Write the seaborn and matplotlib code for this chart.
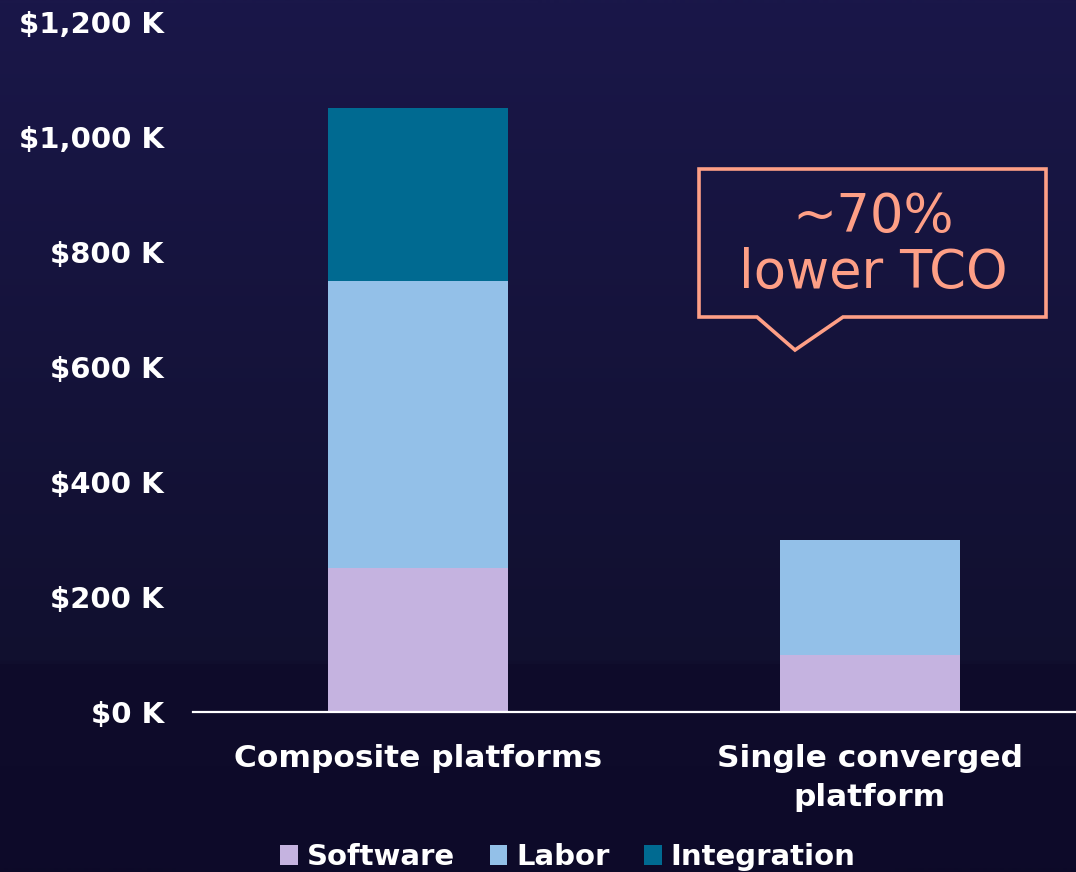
import numpy as np
import pandas as pd
import matplotlib
matplotlib.use("Agg")
import matplotlib.pyplot as plt
from matplotlib.patches import Patch, Polygon
from matplotlib.colors import LinearSegmentedColormap
import seaborn as sns

# Cost components ($K) per platform approach
platforms = ["Composite platforms", "Single converged\nplatform"]
software = [250, 100]
labor = [500, 200]
integration = [300, 0]
components = ["Software", "Labor", "Integration"]
colors = ["#c5b3e0", "#93c0e8", "#006a91"]
yticks = [0, 200, 400, 600, 800, 1000, 1200]
callout_text = "~70%\nlower TCO"

sns.set_theme(style="white")
plt.rcParams["font.family"] = ["DejaVu Sans"]

fig = plt.figure(figsize=(10.76, 8.72), dpi=100)

# Dark navy gradient backdrop
bg = fig.add_axes([0, 0, 1, 1], zorder=-10)
bg.set_axis_off()
grad_cmap = LinearSegmentedColormap.from_list(
    "navy", [(0.0, "#1a1749"), (0.76, "#11102f"), (0.762, "#0f0c2b"), (1.0, "#0d0a29")]
)
grad = np.linspace(0, 1, 872).reshape(-1, 1)
bg.imshow(grad, aspect="auto", cmap=grad_cmap, extent=[0, 1, 0, 1], origin="upper")
bg.set_xlim(0, 1)
bg.set_ylim(0, 1)

ax = fig.add_axes([193 / 1076, 1 - 712 / 872, 1 - 193 / 1076, (712 - 22) / 872])
ax.patch.set_alpha(0)

df = pd.DataFrame({
    "platform": platforms,
    "software": software,
    "labor": labor,
    "integration": integration,
})
df["sw_lab"] = df["software"] + df["labor"]
df["total"] = df["sw_lab"] + df["integration"]

# Stack by overlaying cumulative totals, tallest first
for col, c in [("total", colors[2]), ("sw_lab", colors[1]), ("software", colors[0])]:
    sns.barplot(data=df, x="platform", y=col, order=platforms, color=c,
                width=0.4, saturation=1, ax=ax, edgecolor="none", linewidth=0)

ax.set_ylim(0, 1200)
ax.set_xlim(-0.498, 1.456)
ax.set_yticks(yticks)
ax.set_yticklabels([f"${v:,} K" for v in yticks])
ax.set_xlabel("")
ax.set_ylabel("")
for s in ["top", "right", "left"]:
    ax.spines[s].set_visible(False)
ax.spines["bottom"].set_color("white")
ax.spines["bottom"].set_linewidth(1.6)
ax.tick_params(axis="y", length=0, pad=21, labelsize=21, labelcolor="white")
ax.tick_params(axis="x", length=0, pad=23, labelsize=22.5, labelcolor="white")
for lbl in ax.get_yticklabels() + ax.get_xticklabels():
    lbl.set_fontweight("bold")
    lbl.set_color("white")
for lbl in ax.get_xticklabels():
    lbl.set_linespacing(1.45)

# Callout box with pointer
salmon = "#fe9f86"
px = lambda x: x / 1076
py = lambda y: 1 - y / 872
outline = [(699, 169), (1046, 169), (1046, 317), (843, 317), (795, 350),
           (757, 317), (699, 317)]
fig.patches.append(Polygon([(px(x), py(y)) for x, y in outline], closed=True,
                           fill=False, edgecolor=salmon, linewidth=2.6,
                           joinstyle="miter", transform=fig.transFigure))
fig.text(px(873), py(245), callout_text, color=salmon, fontsize=38,
         ha="center", va="center", linespacing=1.08, fontweight="normal")

handles = [Patch(facecolor=c, edgecolor="none") for c in colors]
leg = fig.legend(handles, components, loc="center", bbox_to_anchor=(px(568), py(857)),
                 ncol=3, frameon=False, handlelength=0.6, handleheight=0.7,
                 handletextpad=0.3, columnspacing=1.2,
                 prop={"size": 21, "weight": "bold"})
for t in leg.get_texts():
    t.set_color("white")

fig.savefig("out.png", dpi=100)
